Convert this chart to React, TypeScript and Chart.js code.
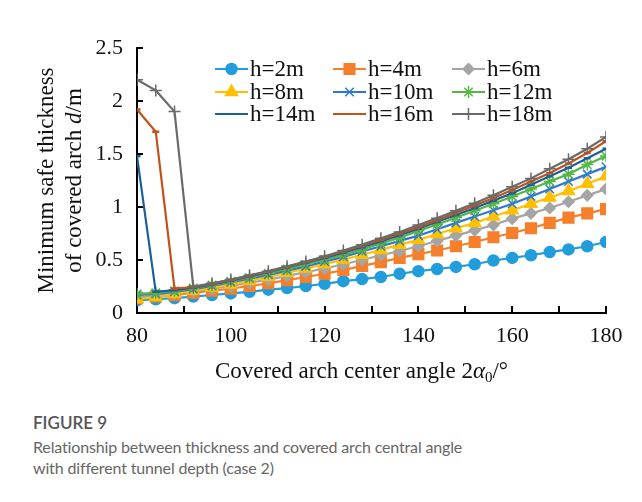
import React, { useEffect, useRef } from "react";
import { Chart, registerables } from "chart.js";
import { drawPoint } from "chart.js/helpers";

Chart.register(...registerables);

const angles = [80, 84, 88, 92, 96, 100, 104, 108, 112, 116, 120, 124, 128, 132, 136, 140, 144, 148, 152, 156, 160, 164, 168, 172, 176, 180];

const h2 = [0.12, 0.13, 0.14, 0.155, 0.17, 0.185, 0.2, 0.22, 0.235, 0.255, 0.275, 0.3, 0.32, 0.34, 0.37, 0.395, 0.415, 0.435, 0.46, 0.495, 0.52, 0.545, 0.575, 0.6, 0.63, 0.67];
const h4 = [0.14, 0.155, 0.17, 0.19, 0.21, 0.23, 0.255, 0.28, 0.31, 0.34, 0.37, 0.405, 0.445, 0.48, 0.52, 0.555, 0.59, 0.63, 0.67, 0.715, 0.755, 0.8, 0.85, 0.9, 0.94, 0.98];
const h6 = [0.15, 0.165, 0.185, 0.205, 0.23, 0.255, 0.285, 0.315, 0.35, 0.385, 0.42, 0.46, 0.5, 0.545, 0.585, 0.63, 0.68, 0.73, 0.78, 0.83, 0.89, 0.94, 0.99, 1.05, 1.11, 1.17];
const h8 = [0.13, 0.15, 0.18, 0.21, 0.24, 0.27, 0.305, 0.34, 0.38, 0.42, 0.46, 0.505, 0.55, 0.595, 0.645, 0.69, 0.745, 0.8, 0.85, 0.91, 0.97, 1.03, 1.09, 1.15, 1.22, 1.29];
const h10 = [0.17, 0.18, 0.2, 0.225, 0.255, 0.29, 0.325, 0.36, 0.4, 0.44, 0.485, 0.53, 0.58, 0.63, 0.68, 0.73, 0.79, 0.85, 0.91, 0.97, 1.03, 1.1, 1.17, 1.24, 1.31, 1.38];
const h12 = [0.18, 0.19, 0.21, 0.235, 0.265, 0.3, 0.335, 0.375, 0.415, 0.46, 0.505, 0.55, 0.6, 0.655, 0.71, 0.775, 0.835, 0.9, 0.965, 1.03, 1.1, 1.17, 1.24, 1.31, 1.4, 1.48];
const h14 = [1.48, 0.2, 0.215, 0.24, 0.27, 0.305, 0.345, 0.385, 0.43, 0.475, 0.52, 0.57, 0.62, 0.675, 0.735, 0.795, 0.86, 0.925, 0.99, 1.06, 1.13, 1.21, 1.29, 1.37, 1.46, 1.55];
const h16 = [1.92, 1.71, 0.23, 0.245, 0.275, 0.31, 0.35, 0.39, 0.435, 0.48, 0.53, 0.58, 0.635, 0.69, 0.75, 0.81, 0.875, 0.945, 1.015, 1.085, 1.16, 1.24, 1.32, 1.41, 1.51, 1.62];
const h18 = [2.2, 2.1, 1.9, 0.25, 0.28, 0.315, 0.355, 0.395, 0.44, 0.485, 0.535, 0.59, 0.645, 0.705, 0.765, 0.83, 0.895, 0.965, 1.035, 1.11, 1.19, 1.27, 1.36, 1.45, 1.55, 1.66];

const seriesLabels = ["h=2m", "h=4m", "h=6m", "h=8m", "h=10m", "h=12m", "h=14m", "h=16m", "h=18m"];
const seriesValues = [h2, h4, h6, h8, h10, h12, h14, h16, h18];

const yTicks = [0, 0.5, 1, 1.5, 2, 2.5];
const yTickLabels = ["0", "0.5", "1", "1.5", "2", "2.5"];
const xTickStep = 10;
const xLabelStep = 20;

const styles = [
  { color: "#229DDB", point: "circle", r: 5.5 },
  { color: "#F57F2A", point: "rect", r: 7.5 },
  { color: "#A5A5A5", point: "rectRot", r: 5.5 },
  { color: "#FFC000", point: "triangle", r: 7 },
  { color: "#2F78D2", point: "crossRot", r: 6 },
  { color: "#55B545", point: "star", r: 6 },
  { color: "#1D5F97", point: "line", r: 3.5 },
  { color: "#C2521B", point: "line", r: 3.5 },
  { color: "#6A6A6A", point: "cross", r: 6 },
];

const SERIF = "'Liberation Serif', 'Times New Roman', serif";

const decorPlugin = {
  id: "decor",
  afterDraw(chart: any) {
    const ctx = chart.ctx as CanvasRenderingContext2D;
    const ca = chart.chartArea;
    const xs = chart.scales.x;
    const ys = chart.scales.y;
    ctx.save();
    // inside tick marks
    ctx.strokeStyle = "#000";
    ctx.lineWidth = 2;
    ctx.beginPath();
    for (let v = xs.min; v <= xs.max + 1e-9; v += xTickStep) {
      const px = Math.round(xs.getPixelForValue(v));
      ctx.moveTo(px, ca.bottom);
      ctx.lineTo(px, ca.bottom - 7);
    }
    yTicks.forEach((v) => {
      const py = Math.round(ys.getPixelForValue(v));
      ctx.moveTo(ca.left, py);
      ctx.lineTo(ca.left + 6, py);
    });
    ctx.stroke();

    ctx.fillStyle = "#111";
    ctx.textBaseline = "middle";
    const cy = (ca.top + ca.bottom) / 2;
    const drawRuns = (runs: { t: string; f: string; dy?: number }[], x: number, y: number, rotate: boolean) => {
      ctx.save();
      ctx.translate(x, y);
      if (rotate) ctx.rotate(-Math.PI / 2);
      let total = 0;
      runs.forEach((r) => {
        ctx.font = r.f;
        total += ctx.measureText(r.t).width;
      });
      let cx = -total / 2;
      ctx.textAlign = "left";
      runs.forEach((r) => {
        ctx.font = r.f;
        ctx.fillText(r.t, cx, r.dy || 0);
        cx += ctx.measureText(r.t).width;
      });
      ctx.restore();
    };
    const f = `23px ${SERIF}`;
    const fi = `italic 23px ${SERIF}`;
    drawRuns([{ t: "Minimum safe thickness", f }], 39, cy, true);
    drawRuns([{ t: "of covered arch ", f }, { t: "d", f: fi }, { t: "/m", f }], 67, cy, true);
    drawRuns(
      [
        { t: "Covered arch center angle 2", f },
        { t: "α", f: fi },
        { t: "0", f: `15px ${SERIF}`, dy: 6 },
        { t: "/°", f },
      ],
      (ca.left + ca.right) / 2 - 10,
      364,
      false
    );

    // legend 3x3
    const colX = [207, 325, 444];
    const rowY = [61, 84, 106];
    ctx.textBaseline = "middle";
    ctx.textAlign = "left";
    seriesLabels.forEach((lab, i) => {
      const st = styles[i];
      const x = colX[i % 3];
      const y = rowY[Math.floor(i / 3)];
      ctx.strokeStyle = st.color;
      ctx.fillStyle = st.color;
      ctx.lineWidth = 2.2;
      ctx.beginPath();
      ctx.moveTo(x, y);
      ctx.lineTo(x + 33, y);
      ctx.stroke();
      ctx.lineWidth = 1.5;
      drawPoint(ctx, { pointStyle: st.point, radius: st.r, rotation: 0, borderWidth: st.point === "line" ? 2.5 : 1.5 } as any, x + 16.5, y);
      ctx.fillStyle = "#111";
      ctx.font = `23px ${SERIF}`;
      ctx.fillText(lab, x + 35, y + 1);
    });
    ctx.restore();
  },
};

export default function App() {
  const ref = useRef<HTMLCanvasElement | null>(null);
  useEffect(() => {
    if (!ref.current) return;
    const datasets = seriesValues.map((vals, i) => ({
      label: seriesLabels[i],
      data: angles.map((a, j) => ({ x: a, y: vals[j] })),
      borderColor: styles[i].color,
      backgroundColor: styles[i].color,
      borderWidth: 2.2,
      pointStyle: styles[i].point,
      pointRadius: styles[i].r,
      pointBorderWidth: styles[i].point === "line" ? 2.5 : 1.5,
      pointBackgroundColor: styles[i].color,
      pointBorderColor: styles[i].color,
      tension: 0,
      order: -i,
    }));
    const chart = new Chart(ref.current, {
      type: "line",
      data: { datasets },
      options: {
        responsive: false,
        animation: false,
        layout: { padding: { left: 79, right: 28, top: 40, bottom: 40 } },
        plugins: { legend: { display: false }, tooltip: { enabled: false } },
        scales: {
          x: {
            type: "linear",
            min: 80,
            max: 180,
            afterFit: (s: any) => {
              s.height = 45;
            },
            ticks: {
              stepSize: xTickStep,
              autoSkip: false,
              maxRotation: 0,
              padding: 10,
              color: "#111",
              font: { family: SERIF, size: 22 },
              callback: (v: any) => (Number(v) % xLabelStep === 0 ? String(v) : ""),
            },
            grid: { drawOnChartArea: false, drawTicks: false },
            border: { color: "#000", width: 2 },
          },
          y: {
            min: 0,
            max: 2.5,
            afterFit: (s: any) => {
              s.width = 50;
            },
            ticks: {
              stepSize: 0.5,
              padding: 14,
              color: "#111",
              font: { family: SERIF, size: 22 },
              callback: (v: any) => {
                const idx = yTicks.findIndex((t) => Math.abs(t - Number(v)) < 1e-9);
                return idx >= 0 ? yTickLabels[idx] : "";
              },
            },
            grid: { drawOnChartArea: false, drawTicks: false },
            border: { color: "#000", width: 2 },
          },
        },
      },
      plugins: [decorPlugin],
    } as any);
    return () => chart.destroy();
  }, []);

  return (
    <div
      style={{
        position: "relative",
        width: 640,
        height: 500,
        marginLeft: -1,
        marginTop: -1,
        borderTop: "1px solid #c8c8c8",
        borderLeft: "1px solid #c8c8c8",
        boxSizing: "border-box",
      }}
    >
      <canvas ref={ref} width={626} height={390} style={{ position: "absolute", left: 0, top: 0, width: 626, height: 390 }} />
      <div
        style={{
          position: "absolute",
          left: 25,
          top: 404,
          fontFamily: "Lato, 'Open Sans', sans-serif",
          fontSize: 16,
          letterSpacing: "-0.15px",
          color: "#666",
          lineHeight: "21px",
        }}
      >
        <div style={{ color: "#555", fontWeight: 600, fontSize: 17, letterSpacing: 0, marginBottom: 3 }}>FIGURE 9</div>
        <div>Relationship between thickness and covered arch central angle</div>
        <div>with different tunnel depth (case 2)</div>
      </div>
    </div>
  );
}
